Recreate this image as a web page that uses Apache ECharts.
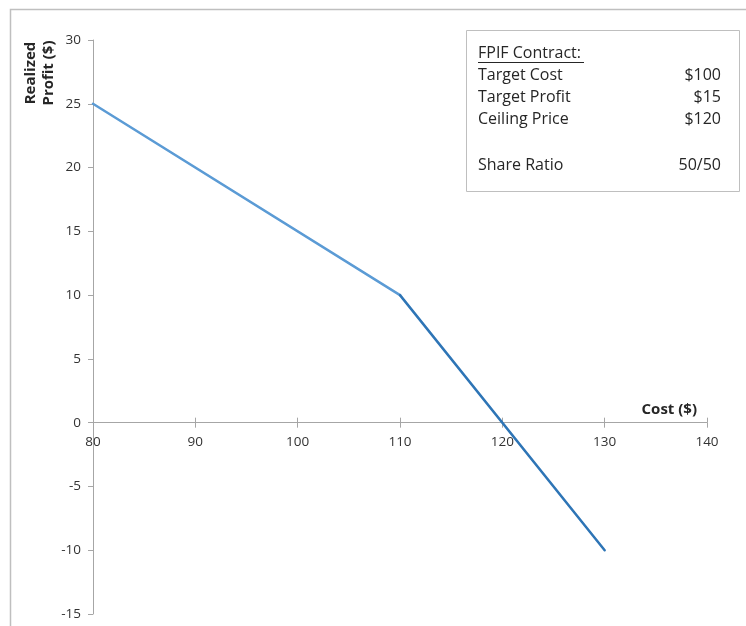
<!DOCTYPE html>
<html>
<head>
<meta charset="utf-8">
<script src="https://cdn.jsdelivr.net/npm/echarts@6/dist/echarts.min.js"></script>
<style>
  html, body { margin: 0; padding: 0; background: #ffffff; }
  #chart { width: 746px; height: 626px; }
</style>
</head>
<body>
<div id="chart"></div>
<script>
// FPIF contract: realized profit as a function of actual cost
const costs = [80, 110, 130];
const profits = [25, 10, -10];

const xTicks = { min: 80, max: 140, step: 10 };
const yTicks = { min: -15, max: 30, step: 5 };

const boxTitle = 'FPIF Contract:';
const boxLabels = ['Target Cost', 'Target Profit', 'Ceiling Price', '', 'Share Ratio'];
const boxValues = ['$100', '$15', '$120', '', '50/50'];

const FONT = '"Open Sans", "Liberation Sans", sans-serif';
const TEXT = '#262626';
const LABEL = '#333333';
const AXIS = '#a6a6a6';

// segment before and after the break point at cost 110
const seg1 = [[costs[0], profits[0]], [costs[1], profits[1]]];
const seg2 = [[costs[1], profits[1]], [costs[2], profits[2]]];

const W = 746, H = 626;
const grid = { left: 93, right: 39, top: 40, bottom: 12 };
// the cost axis crosses the profit axis at zero
const plotH = H - grid.top - grid.bottom;
const zeroFromTop = plotH * (yTicks.max - 0) / (yTicks.max - yTicks.min);
const zeroFromBottom = plotH - zeroFromTop;

const chart = echarts.init(document.getElementById('chart'), null, { renderer: 'canvas' });

const boxX = 466, boxY = 30, boxW = 273, boxH = 161;
const rowYs = [75, 97, 119, 142, 165];
const textX = 478, valueX = 721;
const boxGraphics = [
  { type: 'rect', shape: { x: boxX + 0.5, y: boxY + 0.5, width: boxW, height: boxH },
    style: { fill: '#ffffff', stroke: '#bfbfbf', lineWidth: 1 }, z: 10 },
  { type: 'text', x: textX, y: 53, style: { text: boxTitle, font: '16px ' + FONT, fill: TEXT,
    textVerticalAlign: 'middle' }, z: 11 },
  { type: 'line', shape: { x1: textX, y1: 62.5, x2: 584, y2: 62.5 },
    style: { stroke: TEXT, lineWidth: 1 }, z: 11 }
];
boxLabels.forEach(function (lab, i) {
  if (!lab) return;
  boxGraphics.push({ type: 'text', x: textX, y: rowYs[i], style: { text: lab, font: '16px ' + FONT,
    fill: TEXT, textVerticalAlign: 'middle' }, z: 11 });
  boxGraphics.push({ type: 'text', x: valueX, y: rowYs[i], style: { text: boxValues[i], font: '16px ' + FONT,
    fill: TEXT, textAlign: 'right', textVerticalAlign: 'middle' }, z: 11 });
});

const option = {
  backgroundColor: '#ffffff',
  animation: false,
  grid: { left: grid.left, right: grid.right, top: grid.top, bottom: grid.bottom, containLabel: false },
  xAxis: [
    {
      type: 'value', min: xTicks.min, max: xTicks.max, interval: xTicks.step,
      position: 'bottom', offset: -zeroFromBottom,
      name: 'Cost ($)', nameLocation: 'end', nameGap: -10,
      nameTextStyle: { fontFamily: FONT, fontSize: 15, fontWeight: 'bold', color: TEXT,
        align: 'right', verticalAlign: 'bottom', padding: [0, 0, 5, 0] },
      axisLine: { show: true, onZero: false, lineStyle: { color: AXIS, width: 1 } },
      axisTick: { show: true, inside: false, length: 5, lineStyle: { color: AXIS } },
      axisLabel: { fontFamily: FONT, fontSize: 13.5, color: LABEL, margin: 12 },
      splitLine: { show: false }
    },
    {
      // upward half of the crossing tick marks on the zero line
      type: 'value', min: xTicks.min, max: xTicks.max, interval: xTicks.step,
      position: 'top', offset: -zeroFromTop,
      axisLine: { show: false, onZero: false },
      axisTick: { show: true, inside: false, length: 5, lineStyle: { color: AXIS } },
      axisLabel: { show: false },
      splitLine: { show: false }
    }
  ],
  yAxis: {
    type: 'value', min: yTicks.min, max: yTicks.max, interval: yTicks.step,
    axisLine: { show: true, onZero: false, lineStyle: { color: AXIS, width: 1 } },
    axisTick: { show: true, length: 5, lineStyle: { color: AXIS } },
    axisLabel: { fontFamily: FONT, fontSize: 13.5, color: LABEL, margin: 12 },
    splitLine: { show: false }
  },
  series: [
    { type: 'line', data: seg1, showSymbol: false, symbol: 'none',
      lineStyle: { color: '#5b9bd5', width: 2.5, cap: 'round', join: 'round' }, z: 3 },
    { type: 'line', data: seg2, showSymbol: false, symbol: 'none',
      lineStyle: { color: '#2e75b6', width: 2.5, cap: 'round', join: 'round' }, z: 3 }
  ],
  graphic: [
    // outer chart frame
    { type: 'rect', shape: { x: 10.5, y: 9.5, width: 760, height: 640 },
      style: { fill: 'none', stroke: '#bfbfbf', lineWidth: 1.5 }, z: 0, silent: true },
    // vertical axis title
    { type: 'text', x: 40, y: 73, rotation: Math.PI / 2,
      style: { text: 'Realized\nProfit ($)', font: 'bold 15px ' + FONT, fill: TEXT,
        textAlign: 'center', textVerticalAlign: 'middle', lineHeight: 18 }, z: 5 }
  ].concat(boxGraphics)
};

chart.setOption(option);
</script>
</body>
</html>
